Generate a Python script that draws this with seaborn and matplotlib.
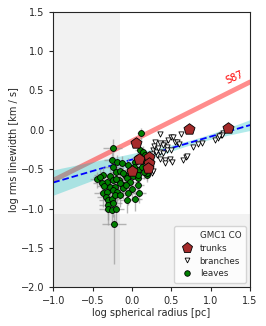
import numpy as np
import matplotlib
matplotlib.use("Agg")
import matplotlib.pyplot as plt
from matplotlib.lines import Line2D
import seaborn as sns
import pandas as pd

# ---------------- data ----------------
leaf_x = [0.114, -0.245, -0.258, -0.194, -0.13, -0.238, -0.203, -0.152, -0.089, -0.28,
          -0.449, -0.365, -0.322, -0.238, -0.16, -0.067, 0.017, 0.038, 0.08, 0.10,
          0.144, 0.165, 0.123, 0.186, 0.08, -0.025, -0.11, -0.28, -0.216, -0.385,
          -0.365, -0.322, -0.33, -0.238, -0.195, -0.30, -0.258, -0.216, -0.30, -0.238,
          -0.30, -0.258, -0.207, -0.225, -0.067, -0.152, -0.11, -0.076, 0.08, 0.093,
          0.038, -0.152, -0.203, -0.025, -0.11, 0.08, 0.186, 0.15, -0.05, 0.02,
          0.06, 0.13, -0.35, -0.40, 0.0, -0.05]
leaf_y = [-0.045, -0.236, -0.384, -0.406, -0.418, -0.47, -0.533, -0.524, -0.575, -0.588,
          -0.63, -0.575, -0.66, -0.64, -0.64, -0.617, -0.588, -0.406, -0.511, -0.257,
          -0.279, -0.32, -0.47, -0.575, -0.617, -0.66, -0.70, -0.73, -0.73, -0.68,
          -0.807, -0.786, -0.85, -0.766, -0.786, -0.893, -0.885, -0.83, -0.956, -0.935,
          -1.0, -1.02, -1.01, -1.2, -0.893, -0.83, -0.745, -0.70, -0.70, -0.80,
          -0.885, -0.68, -0.63, -0.511, -0.553, -0.575, -0.553, -0.53, -0.45, -0.47,
          -0.36, -0.40, -0.72, -0.60, -0.75, -0.80]
leaf_xerr = [0.05, 0.12, 0.10, 0.08, 0.09, 0.10, 0.08, 0.09, 0.07, 0.10,
             0.08, 0.12, 0.11, 0.10, 0.08, 0.09, 0.07, 0.06, 0.08, 0.06,
             0.07, 0.06, 0.07, 0.06, 0.08, 0.09, 0.10, 0.12, 0.10, 0.11,
             0.12, 0.10, 0.11, 0.12, 0.10, 0.12, 0.11, 0.10, 0.12, 0.11,
             0.12, 0.10, 0.11, 0.15, 0.09, 0.10, 0.09, 0.08, 0.07, 0.08,
             0.09, 0.10, 0.09, 0.08, 0.09, 0.07, 0.06, 0.07, 0.08, 0.07,
             0.06, 0.06, 0.10, 0.09, 0.09, 0.10]
leaf_yerr_lo = [0.08, 0.16, 0.13, 0.11, 0.11, 0.13, 0.11, 0.11, 0.10, 0.13,
                0.11, 0.13, 0.13, 0.13, 0.11, 0.11, 0.10, 0.09, 0.11, 0.08,
                0.09, 0.08, 0.10, 0.09, 0.11, 0.11, 0.13, 0.16, 0.13, 0.13,
                0.17, 0.16, 0.17, 0.16, 0.15, 0.18, 0.17, 0.16, 0.19, 0.17,
                0.21, 0.21, 0.19, 0.50, 0.16, 0.15, 0.13, 0.13, 0.11, 0.13,
                0.15, 0.13, 0.12, 0.11, 0.11, 0.10, 0.09, 0.10, 0.11, 0.10,
                0.09, 0.09, 0.15, 0.12, 0.13, 0.15]
leaf_yerr_hi = [0.07, 0.12, 0.10, 0.09, 0.09, 0.10, 0.09, 0.09, 0.08, 0.10,
                0.09, 0.10, 0.10, 0.10, 0.09, 0.09, 0.08, 0.07, 0.09, 0.06,
                0.07, 0.06, 0.08, 0.07, 0.09, 0.09, 0.10, 0.12, 0.10, 0.10,
                0.12, 0.12, 0.12, 0.12, 0.11, 0.13, 0.12, 0.12, 0.13, 0.12,
                0.14, 0.14, 0.13, 0.13, 0.12, 0.11, 0.10, 0.10, 0.09, 0.10,
                0.11, 0.10, 0.10, 0.09, 0.09, 0.08, 0.07, 0.08, 0.09, 0.08,
                0.07, 0.07, 0.11, 0.10, 0.10, 0.11]

branch_x = [0.356, 0.49, 0.525, 0.62, 0.29, 0.356, 0.42, 0.40, 0.44, 0.547,
            0.568, 0.44, 0.49, 0.78, 0.842, 0.886, 1.055, 1.097, 1.127, 1.152,
            1.14, 1.11, 0.356, 0.42, 0.483, 0.505, 0.652, 0.686, 0.695, 0.314,
            0.356, 0.39, 0.27, 0.25, 0.31, 0.25, 0.27, 0.42, 0.46, 0.28,
            0.33, 0.60, 0.24]
branch_y = [-0.058, -0.096, -0.088, -0.055, -0.155, -0.17, -0.165, -0.19, -0.215, -0.16,
            -0.15, -0.257, -0.257, -0.215, -0.181, -0.172, -0.13, -0.10, -0.067, -0.037,
            -0.06, -0.085, -0.375, -0.384, -0.375, -0.406, -0.384, -0.35, -0.333, -0.32,
            -0.279, -0.30, -0.257, -0.308, -0.28, -0.55, -0.52, -0.42, -0.13, -0.20,
            -0.23, -0.18, -0.42]

trunk_x = [0.05, 0.72, 1.22, 0.09, 0.22, 0.22, 0.21, 0.0]
trunk_y = [-0.17, 0.01, 0.02, -0.37, -0.34, -0.42, -0.49, -0.52]

# Solomon et al. 1987 relation and fitted relation
s87_coef = 0.72
s87_slope = 0.5
fit_slope = 0.292
fit_intercept = -0.378
fit_pivot = 0.8
fit_sig_a = 0.03
fit_sig_b = 0.088

# resolution limits
x_limit = -0.15
y_limit = -1.07

leaves = pd.DataFrame({"x": leaf_x, "y": leaf_y})
branches = pd.DataFrame({"x": branch_x, "y": branch_y})
trunks = pd.DataFrame({"x": trunk_x, "y": trunk_y})

# ---------------- plot ----------------
sns.set_style("ticks")
plt.rcParams["font.family"] = ["DejaVu Sans"]

fig = plt.figure(figsize=(2.66, 3.26), dpi=100)
ax = fig.add_axes([0.2, 0.119, 0.74, 0.845])

ax.axvspan(-1.0, x_limit, color="gray", alpha=0.1, lw=0, zorder=0)
ax.axhspan(-2.0, y_limit, color="gray", alpha=0.1, lw=0, zorder=0)

xx = np.linspace(-1.0, 1.5, 100)
ax.plot(xx, np.log10(s87_coef) + s87_slope * xx, color="red", alpha=0.45, lw=3.5, zorder=1)
ax.text(1.31, 0.66, "S87", color="red", fontsize=7, rotation=24, ha="center", va="center")

fit = fit_intercept + fit_slope * xx
sig = np.sqrt(fit_sig_a ** 2 + (fit_sig_b * (xx - fit_pivot)) ** 2)
ax.fill_between(xx, fit - sig, fit + sig, color="c", alpha=0.3, lw=0, zorder=1)
ax.plot(xx, fit, color="blue", ls="--", lw=1.3, zorder=2)

ax.errorbar(leaf_x, leaf_y, xerr=leaf_xerr, yerr=[leaf_yerr_lo, leaf_yerr_hi], fmt="none",
            ecolor="0.6", elinewidth=1, alpha=0.7, zorder=2)
sns.scatterplot(data=leaves, x="x", y="y", ax=ax, marker="o", s=18,
                color="green", edgecolor="black", linewidth=0.6, zorder=3)
sns.scatterplot(data=branches, x="x", y="y", ax=ax, marker="v", s=14,
                color="white", edgecolor="black", linewidth=0.6, zorder=4)
sns.scatterplot(data=trunks, x="x", y="y", ax=ax, marker="p", s=70,
                color="brown", edgecolor="black", linewidth=0.6, zorder=5)

ax.set_xlim(-1.0, 1.5)
ax.set_ylim(-2.0, 1.5)
ax.set_xticks(np.arange(-1.0, 1.51, 0.5))
ax.set_yticks(np.arange(-2.0, 1.51, 0.5))
ax.tick_params(labelsize=7, length=3, width=0.8)
ax.set_xlabel("log spherical radius [pc]", fontsize=7, labelpad=1)
ax.set_ylabel("log rms linewidth [km / s]", fontsize=7, labelpad=1)
for sp in ax.spines.values():
    sp.set_linewidth(0.8)

handles = [
    Line2D([], [], ls="none", label="GMC1 CO"),
    Line2D([], [], ls="none", marker="p", ms=8, mfc="brown", mec="black", mew=0.6, label="trunks"),
    Line2D([], [], ls="none", marker="v", ms=3.5, mfc="white", mec="black", mew=0.6, label="branches"),
    Line2D([], [], ls="none", marker="o", ms=4, mfc="green", mec="black", mew=0.6, label="leaves"),
]
ax.legend(handles=handles, loc="lower right", fontsize=6.3, frameon=True,
          handletextpad=0.4, borderpad=0.5, labelspacing=0.45)

fig.savefig("out.png", dpi=100)
